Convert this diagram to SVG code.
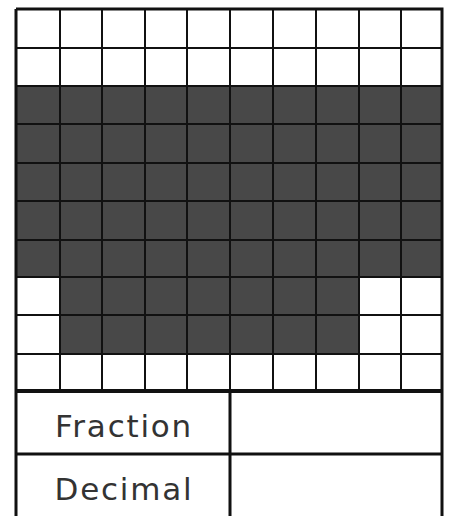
<svg xmlns="http://www.w3.org/2000/svg" width="449" height="516" viewBox="0 0 449 516">
<style>
.cell{fill:#484848}
.grid{stroke:#111;stroke-width:2;fill:none}
.border{stroke:#111;stroke-width:3;fill:none}
.lbl{font-family:"DejaVu Sans","Liberation Sans",sans-serif;font-size:31px;letter-spacing:1.8px;fill:#333;text-anchor:middle}
</style>
<rect width="449" height="516" fill="#fff"/>
<g id="shading">
<rect class="cell" x="16" y="86" width="426" height="192"/>
<rect class="cell" x="60" y="277" width="299" height="77"/>
</g>
<g id="grid" class="grid">
<path d="M60 9V391M102 9V391M145 9V391M187 9V391M230 9V391M273 9V391M316 9V391M359 9V391M401 9V391"/>
<path d="M16 48H442M16 86H442M16 124H442M16 163H442M16 201H442M16 240H442M16 277H442M16 315H442M16 354H442"/>
</g>
<g id="table" class="border">
<path d="M16 9H442V518M16 9V518"/>
<path d="M16 391H442" stroke-width="4"/>
<path d="M16 454H442M230 391V518"/>
</g>
<g id="labels">
<text class="lbl" x="124" y="437">Fraction</text>
<text class="lbl" x="124" y="500">Decimal</text>
</g>
</svg>
